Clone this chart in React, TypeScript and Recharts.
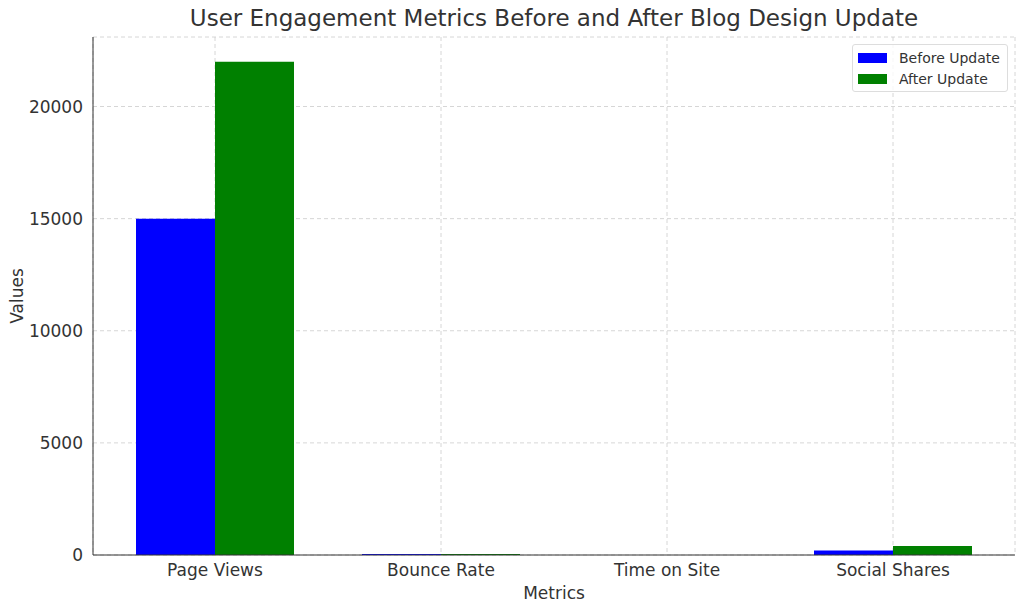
import React from 'react';
import { BarChart, Bar, XAxis, YAxis, CartesianGrid, Label } from 'recharts';

const categories = ['Page Views', 'Bounce Rate', 'Time on Site', 'Social Shares'];
const beforeValues = [15000, 50, 3, 200];
const afterValues = [22000, 40, 4, 400];
const yTicks = [0, 5000, 10000, 15000, 20000];

const data = categories.map((c, i) => ({ name: c, before: beforeValues[i], after: afterValues[i] }));

const FONT = 'DejaVu Sans, sans-serif';
const TXT = '#333333';

const LegendBox = () => (
  <div
    style={{
      position: 'absolute',
      left: 852,
      top: 44,
      width: 156,
      height: 48,
      border: '1px solid #dddddd',
      borderRadius: 3,
      background: 'rgba(255,255,255,0.8)',
      fontFamily: FONT,
      fontSize: 14,
      color: TXT,
      boxSizing: 'border-box',
      padding: '2px 0 0 5px',
    }}
  >
    {[
      ['Before Update', '#0000ff'],
      ['After Update', '#008000'],
    ].map(([label, color]) => (
      <div key={label} style={{ display: 'flex', alignItems: 'center', height: 21 }}>
        <span style={{ display: 'inline-block', width: 29, height: 10, background: color, marginRight: 12 }} />
        <span>{label}</span>
      </div>
    ))}
  </div>
);

export default function App() {
  return (
    <div style={{ position: 'absolute', left: 0, top: 0, width: 1024, height: 611, background: '#fff' }}>
      <div
        style={{
          position: 'absolute',
          left: 93,
          width: 922,
          top: 5,
          textAlign: 'center',
          fontFamily: FONT,
          fontSize: 23,
          color: TXT,
        }}
      >
        User Engagement Metrics Before and After Blog Design Update
      </div>
      <BarChart
        width={1024}
        height={611}
        data={data}
        margin={{ top: 37, right: 9, bottom: 0, left: 0 }}
        barCategoryGap={34}
        barGap={0}
      >
        <CartesianGrid stroke="#cccccc" strokeDasharray="4 3" strokeWidth={0.8} />
        <XAxis
          dataKey="name"
          height={56}
          padding={{ left: 9, right: 9 }}
          tickLine={false}
          stroke="#333"
          tick={{ fill: TXT, fontSize: 17, fontFamily: FONT }}
          tickMargin={3}
        >
          <Label value="Metrics" position="insideBottom" offset={12} style={{ fill: TXT, fontSize: 17, fontFamily: FONT }} />
        </XAxis>
        <YAxis
          width={93}
          domain={[0, 23100]}
          ticks={yTicks}
          tickLine={false}
          stroke="#333"
          interval={0}
          tick={{ fill: TXT, fontSize: 17, fontFamily: FONT }}
          tickMargin={4}
        >
          <Label value="Values" angle={-90} position="insideLeft" offset={17} style={{ fill: TXT, fontSize: 17, fontFamily: FONT, textAnchor: 'middle' }} />
        </YAxis>
        <Bar dataKey="before" name="Before Update" fill="#0000ff" isAnimationActive={false} />
        <Bar dataKey="after" name="After Update" fill="#008000" isAnimationActive={false} />
      </BarChart>
      <LegendBox />
    </div>
  );
}
